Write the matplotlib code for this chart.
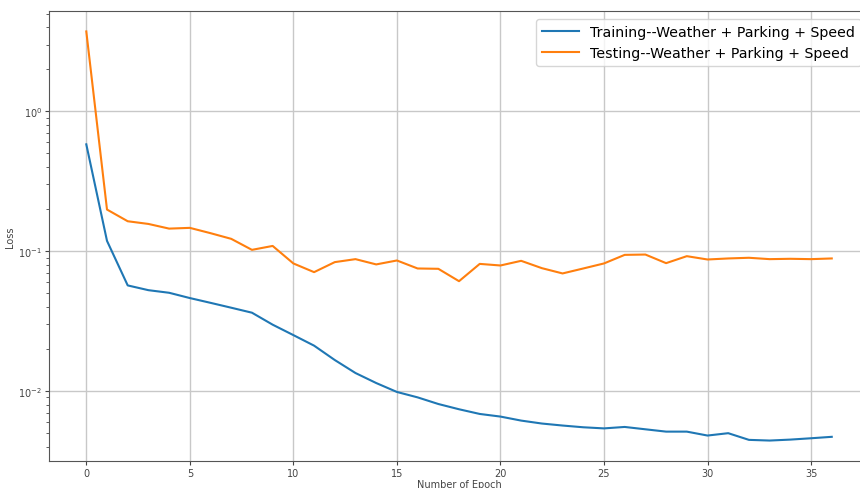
import numpy as np
import matplotlib
matplotlib.use("Agg")
import matplotlib.pyplot as plt

epochs = np.arange(37)

train_loss = [0.581, 0.1185, 0.0569, 0.0526, 0.0504, 0.0462, 0.0427, 0.0394, 0.0363,
              0.0298, 0.0251, 0.0211, 0.01665, 0.01344, 0.0114, 0.00984, 0.0090,
              0.00807, 0.0074, 0.00685, 0.00656, 0.00614, 0.00585, 0.00566, 0.0055,
              0.0054, 0.00553, 0.00532, 0.00512, 0.00512, 0.0048, 0.00499, 0.00447,
              0.00442, 0.00449, 0.00459, 0.0047]

test_loss = [3.73, 0.1985, 0.1637, 0.1566, 0.145, 0.1468, 0.1345, 0.1225, 0.1022,
             0.109, 0.0817, 0.0708, 0.0835, 0.0877, 0.0804, 0.0858, 0.0752, 0.0748,
             0.061, 0.0811, 0.079, 0.0853, 0.0756, 0.0693, 0.0752, 0.0817, 0.0941,
             0.0946, 0.0821, 0.0921, 0.0872, 0.0887, 0.0897, 0.0877, 0.0882, 0.0877,
             0.0887]

fig = plt.figure(figsize=(8.6, 4.89), dpi=100)
# axes runs a little past the right edge, like the reference crop
ax = fig.add_axes([0.057, 0.0552, 0.9535, 0.9203])

ax.plot(epochs, train_loss, color='#1f77b4', lw=1.5, label='Training--Weather + Parking + Speed')
ax.plot(epochs, test_loss, color='#ff7f0e', lw=1.5, label='Testing--Weather + Parking + Speed')
ax.set_yscale('log')

ax.grid(True, which='major', color='#c8c8c8', lw=1)
ax.set_axisbelow(True)
ax.set_xlabel('Number of Epoch', fontsize=7, color='#444444', labelpad=1)
ax.set_ylabel('Loss', fontsize=7, color='#444444')
ax.yaxis.set_label_coords(-0.042, 0.5)
ax.tick_params(labelsize=7, colors='#444444', length=3, pad=2)
ax.tick_params(which='minor', length=2, colors='#444444')
for s in ax.spines.values():
    s.set_color('#555555')

ax.legend(loc='upper right', fontsize=10.2, handlelength=2.6, borderaxespad=0.6)

fig.savefig('out.png', dpi=100)
